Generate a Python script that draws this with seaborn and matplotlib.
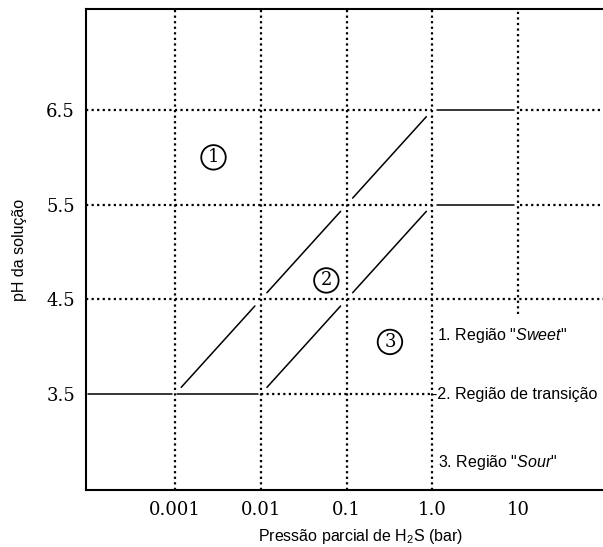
import numpy as np
import pandas as pd
import matplotlib
matplotlib.use("Agg")
import matplotlib.pyplot as plt
import seaborn as sns

# ---- data ----
x_ticks = [0.001, 0.01, 0.1, 1.0, 10]
x_tick_labels = ["0.001", "0.01", "0.1", "1.0", "10"]
y_ticks = [3.5, 4.5, 5.5, 6.5]
y_tick_labels = ["3.5", "4.5", "5.5", "6.5"]

# boundary: Sweet / transition (upper diagonal)
upper_x = [0.001, 0.01, 0.1, 1.0]
upper_y = [3.5, 4.5, 5.5, 6.5]
# boundary: transition / Sour (lower diagonal)
lower_x = [0.01, 0.1, 1.0]
lower_y = [3.5, 4.5, 5.5]
# horizontal solid limits
plateau_x = [1.0, 10]
plateau_y = [6.5, 5.5]
floor_x = [0.0000912, 0.001, 0.01]
floor_y = 3.5

region_labels = ["1", "2", "3"]
region_x = [0.0028, 0.058, 0.32]
region_y = [6.0, 4.7, 4.05]

legend_texts = ['1. Região "$\\it{Sweet}$"', '-2. Região de transição', '3. Região "$\\it{Sour}$"']
legend_x = [1.12, 1.0, 1.15]
legend_y = [4.12, 3.5, 2.78]

sns.set_theme(style="white")
plt.rcParams['font.family'] = ['Liberation Sans', 'DejaVu Sans']
plt.rcParams['mathtext.fontset'] = 'custom'
plt.rcParams['mathtext.rm'] = 'Liberation Sans'
plt.rcParams['mathtext.it'] = 'Liberation Sans:italic'

fig = plt.figure(figsize=(6.03, 5.47), dpi=100)
ax = fig.add_axes([0.1426, 0.1042, 0.8574, 0.8793])
ax.set_xscale("log")
ax.set_xlim(10 ** -4.04, 10 ** 1.99)
ax.set_ylim(2.486, 7.567)

dot = dict(color="black", linewidth=1.6, linestyle=(0, (1, 1.5)), zorder=1)
solid = dict(color="black", linewidth=1.1, zorder=2)

# dotted grid lines
for xv in [0.001, 0.01, 0.1, 1.0]:
    ax.axvline(xv, **dot)
ax.plot([10, 10], [4.35, 7.6], **dot)
ax.plot([10 ** -4.04, 1.0], [6.5, 6.5], **dot)
ax.plot([10.6, 10 ** 1.99], [6.5, 6.5], **dot)
ax.plot([10 ** -4.04, 1.0], [5.5, 5.5], **dot)
ax.plot([10.6, 10 ** 1.99], [5.5, 5.5], **dot)
ax.plot([10 ** -4.04, 10 ** 1.99], [4.5, 4.5], **dot)
ax.plot([0.01, 1.0], [3.5, 3.5], **dot)

def draw_segments(xs, ys, gap=0.07):
    lx = np.log10(xs)
    ys = np.asarray(ys, float)
    for i in range(len(xs) - 1):
        x0, x1 = lx[i], lx[i + 1]
        y0, y1 = ys[i], ys[i + 1]
        dx, dy = x1 - x0, y1 - y0
        seg = pd.DataFrame({
            "x": 10 ** np.array([x0 + gap * dx, x1 - gap * dx]),
            "y": [y0 + gap * dy, y1 - gap * dy],
        })
        sns.lineplot(data=seg, x="x", y="y", ax=ax, estimator=None, sort=False, **solid)

draw_segments(upper_x, upper_y)
draw_segments(lower_x, lower_y)

for yv in plateau_y:
    seg = pd.DataFrame({"x": [plateau_x[0] * 1.13, plateau_x[1] * 0.9], "y": [yv, yv]})
    sns.lineplot(data=seg, x="x", y="y", ax=ax, estimator=None, sort=False, **solid)

for i in range(len(floor_x) - 1):
    seg = pd.DataFrame({"x": [floor_x[i] * 1.05, floor_x[i + 1] * 0.93], "y": [floor_y, floor_y]})
    sns.lineplot(data=seg, x="x", y="y", ax=ax, estimator=None, sort=False, **solid)

for lab, xv, yv in zip(region_labels, region_x, region_y):
    ax.text(xv, yv, lab, ha="center", va="center", fontsize=13, family="DejaVu Serif",
            color="black", zorder=4,
            bbox=dict(boxstyle="circle,pad=0.18", fc="white", ec="black", lw=1.3))

for t, xv, yv in zip(legend_texts, legend_x, legend_y):
    ax.text(xv, yv, t, ha="left", va="center", fontsize=11.5, color="black", zorder=4,
            clip_on=False)

ax.set_xticks(x_ticks)
ax.set_xticklabels(x_tick_labels, family="DejaVu Serif", fontsize=13)
ax.set_yticks(y_ticks)
ax.set_yticklabels(y_tick_labels, family="DejaVu Serif", fontsize=13)
ax.minorticks_off()
ax.tick_params(axis="both", which="major", length=3, width=1.2, color="black",
               labelcolor="black", pad=6)
ax.tick_params(axis="x", direction="in", pad=8)
ax.tick_params(axis="y", direction="out", pad=5)

for s in ["left", "bottom", "top"]:
    ax.spines[s].set_visible(True)
    ax.spines[s].set_color("black")
    ax.spines[s].set_linewidth(1.5)
ax.spines["right"].set_visible(False)

ax.set_xlabel("Pressão parcial de H$_\\mathregular{2}$S (bar)", fontsize=11.5, color="black")
ax.set_ylabel("pH da solução", fontsize=11.5, color="black")
ax.xaxis.set_label_coords(0.532, -0.077)
ax.yaxis.set_label_coords(-0.114, 0.5)
ax.grid(False)

fig.savefig("out.png", dpi=100, facecolor="white")
